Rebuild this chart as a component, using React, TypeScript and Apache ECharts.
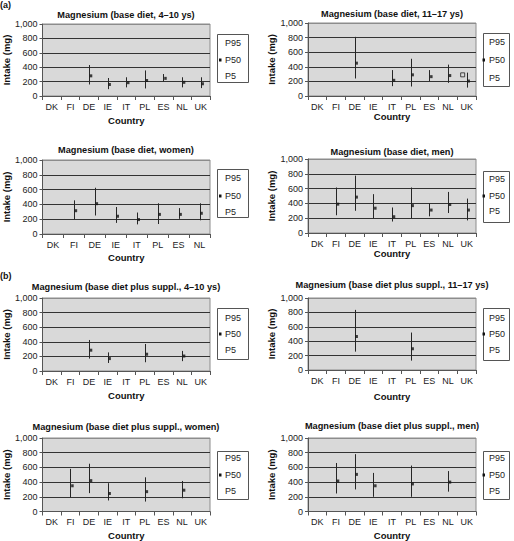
import React, { useEffect, useRef } from 'react';
import * as echarts from 'echarts';

const countries9 = ['DK', 'FI', 'DE', 'IE', 'IT', 'PL', 'ES', 'NL', 'UK'];
const countries8 = ['DK', 'FI', 'DE', 'IE', 'IT', 'PL', 'ES', 'NL'];
const yTicks = [0, 200, 400, 600, 800, 1000];

// (a) base diet
const base4to10P5 = [null, null, 160, 95, 120, 105, 200, 120, 110];
const base4to10P50 = [null, null, 280, 160, 185, 215, 245, 190, 170];
const base4to10P95 = [null, null, 430, 250, 260, 355, 305, 260, 260];

const base11to17P5 = [null, null, 240, null, 135, 130, 205, 180, 115];
const base11to17P50 = [null, null, 450, null, 215, 290, 265, 280, 205];
const base11to17P95 = [null, null, 810, null, 355, 510, 355, 430, 320];
const base11to17Hollow = [null, null, null, null, null, null, null, null, 290];

const baseWomenP5 = [null, 195, 250, 150, 130, 135, 205, 185];
const baseWomenP50 = [null, 315, 410, 240, 195, 265, 265, 280];
const baseWomenP95 = [null, 455, 625, 365, 290, 415, 350, 415];

const baseMenP5 = [null, 240, 300, 200, 155, 200, 225, 270, 170];
const baseMenP50 = [null, 390, 485, 335, 220, 370, 310, 385, 310];
const baseMenP95 = [null, 615, 775, 525, 345, 615, 405, 555, 465];

// (b) base diet plus supplements
const suppl4to10P5 = [null, null, 170, 110, null, 120, null, 135, null];
const suppl4to10P50 = [null, null, 285, 170, null, 230, null, 205, null];
const suppl4to10P95 = [null, null, 425, 255, null, 370, null, 275, null];

const suppl11to17P5 = [null, null, 255, null, null, 130, null, null, null];
const suppl11to17P50 = [null, null, 465, null, null, 295, null, null, null];
const suppl11to17P95 = [null, null, 835, null, null, 520, null, null, null];

const supplWomenP5 = [null, 190, 250, 150, null, 135, null, 180, null];
const supplWomenP50 = [null, 350, 420, 245, null, 270, null, 290, null];
const supplWomenP95 = [null, 580, 650, 385, null, 465, null, 415, null];

const supplMenP5 = [null, 245, 300, 200, null, 200, null, 270, null];
const supplMenP50 = [null, 415, 505, 350, null, 375, null, 400, null];
const supplMenP95 = [null, 660, 780, 525, null, 625, null, 550, null];

const legendLabels = ['P95', 'P50', 'P5'];

const FONT = '"Liberation Sans", Arial, Helvetica, sans-serif';

type Num = number | null;
interface Panel {
  title: string;
  cats: string[];
  p5: Num[];
  p50: Num[];
  p95: Num[];
  hollow?: Num[];
  grid: { left: number; top: number; width: number; height: number };
  titleY: number;
  nameY: number;
  yNameX: number;
  legend: { x: number; y: number; w: number; h: number; ys: number[]; tx: number; mx: number };
}

const panels: Panel[] = [
  {
    title: 'Magnesium (base diet, 4–10 ys)', cats: countries9,
    p5: base4to10P5, p50: base4to10P50, p95: base4to10P95,
    grid: { left: 42, top: 24, width: 168, height: 72 }, titleY: 15, nameY: 121, yNameX: 5,
    legend: { x: 217, y: 34, w: 31, h: 48, ys: [43, 60, 76], tx: 225, mx: 220 },
  },
  {
    title: 'Magnesium (base diet, 11–17 ys)', cats: countries9,
    p5: base11to17P5, p50: base11to17P50, p95: base11to17P95, hollow: base11to17Hollow,
    grid: { left: 308, top: 23, width: 168, height: 73 }, titleY: 14, nameY: 117, yNameX: 272,
    legend: { x: 483, y: 33, w: 26, h: 53, ys: [42, 60, 78], tx: 489, mx: 483.5 },
  },
  {
    title: 'Magnesium (base diet, women)', cats: countries8,
    p5: baseWomenP5, p50: baseWomenP50, p95: baseWomenP95,
    grid: { left: 42, top: 160, width: 168, height: 74 }, titleY: 150, nameY: 258, yNameX: 5,
    legend: { x: 217, y: 169, w: 31, h: 48, ys: [178, 196, 212], tx: 225, mx: 220 },
  },
  {
    title: 'Magnesium (base diet, men)', cats: countries9,
    p5: baseMenP5, p50: baseMenP50, p95: baseMenP95,
    grid: { left: 308, top: 159, width: 168, height: 74 }, titleY: 152, nameY: 253, yNameX: 272,
    legend: { x: 483, y: 171, w: 26, h: 51, ys: [179, 196, 211], tx: 489, mx: 483.5 },
  },
  {
    title: 'Magnesium (base diet plus suppl., 4–10 ys)', cats: countries9,
    p5: suppl4to10P5, p50: suppl4to10P50, p95: suppl4to10P95,
    grid: { left: 42, top: 298, width: 168, height: 73 }, titleY: 287, nameY: 396, yNameX: 5,
    legend: { x: 217, y: 308, w: 31, h: 51, ys: [318, 334, 350], tx: 225, mx: 220 },
  },
  {
    title: 'Magnesium (base diet plus suppl., 11–17 ys)', cats: countries9,
    p5: suppl11to17P5, p50: suppl11to17P50, p95: suppl11to17P95,
    grid: { left: 308, top: 298, width: 168, height: 72 }, titleY: 285, nameY: 397, yNameX: 272,
    legend: { x: 483, y: 308, w: 26, h: 52, ys: [318, 334, 350], tx: 489, mx: 483.5 },
  },
  {
    title: 'Magnesium (base diet plus suppl., women)', cats: countries9,
    p5: supplWomenP5, p50: supplWomenP50, p95: supplWomenP95,
    grid: { left: 42, top: 438, width: 168, height: 74 }, titleY: 427, nameY: 536, yNameX: 5,
    legend: { x: 217, y: 451, w: 31, h: 48, ys: [458, 475, 491], tx: 225, mx: 220 },
  },
  {
    title: 'Magnesium (base diet plus suppl., men)', cats: countries9,
    p5: supplMenP5, p50: supplMenP50, p95: supplMenP95,
    grid: { left: 308, top: 438, width: 168, height: 74 }, titleY: 426, nameY: 536, yNameX: 272,
    legend: { x: 483, y: 451, w: 26, h: 48, ys: [458, 475, 491], tx: 489, mx: 483.5 },
  },
];

function buildOption() {
  const grids: any[] = [];
  const xAxes: any[] = [];
  const yAxes: any[] = [];
  const series: any[] = [];
  const titles: any[] = [];
  const graphics: any[] = [];

  panels.forEach((p, i) => {
    const g = p.grid;
    grids.push({
      left: g.left, top: g.top, width: g.width, height: g.height,
      show: true, backgroundColor: '#d9d9d9', borderColor: '#8c8c8c', borderWidth: 1,
      containLabel: false,
    });
    xAxes.push({
      type: 'category', gridIndex: i, data: p.cats, boundaryGap: true,
      name: 'Country', nameLocation: 'middle',
      nameGap: p.nameY - (g.top + g.height) - 5.5,
      nameTextStyle: { fontFamily: FONT, fontSize: 9.5, fontWeight: 'bold', color: '#111' },
      axisLine: { show: true, lineStyle: { color: '#555', width: 1 } },
      axisTick: { show: true, length: 4, lineStyle: { color: '#555' } },
      axisLabel: { fontFamily: FONT, fontSize: 9, color: '#222', margin: 6, interval: 0 },
      splitLine: { show: false },
    });
    yAxes.push({
      type: 'value', gridIndex: i, min: 0, max: 1000, interval: 200,
      name: 'Intake (mg)', nameLocation: 'middle', nameRotate: 90,
      nameGap: g.left - p.yNameX - 5.5,
      nameTextStyle: { fontFamily: FONT, fontSize: 9.5, fontWeight: 'bold', color: '#111' },
      axisLine: { show: true, lineStyle: { color: '#555', width: 1 } },
      axisTick: { show: true, length: 3, lineStyle: { color: '#555' } },
      axisLabel: {
        fontFamily: FONT, fontSize: 9, color: '#222', margin: 5,
        formatter: (v: number) => v.toLocaleString('en-US'),
      },
      splitLine: {
        show: true,
        lineStyle: { color: yTicks.map((t) => (t === 0 || t === 1000 ? '#8c8c8c' : '#333333')), width: 1 },
      },
    });
    titles.push({
      text: p.title, left: g.left + g.width / 2, top: p.titleY - 5.5, textAlign: 'center',
      padding: 0,
      textStyle: { fontFamily: FONT, fontSize: 9.2, fontWeight: 'bold', color: '#111', lineHeight: 11 },
    });

    const bars = p.cats
      .map((_, k) => (p.p5[k] != null && p.p95[k] != null ? [k, p.p5[k], p.p95[k]] : null))
      .filter(Boolean);
    series.push({
      type: 'custom', name: 'P5–P95', xAxisIndex: i, yAxisIndex: i, data: bars,
      encode: { x: 0, y: [1, 2] },
      renderItem: (params: any, api: any) => {
        const lo = api.coord([api.value(0), api.value(1)]);
        const hi = api.coord([api.value(0), api.value(2)]);
        const x = Math.round(lo[0]) + 0.5;
        return {
          type: 'line',
          shape: { x1: x, y1: lo[1], x2: x, y2: hi[1] },
          style: { stroke: '#262626', lineWidth: 1 },
        };
      },
      z: 3,
    });
    const meds = p.cats
      .map((_, k) => (p.p50[k] != null ? [k, p.p50[k]] : null))
      .filter(Boolean);
    series.push({
      type: 'scatter', name: 'P50', xAxisIndex: i, yAxisIndex: i, data: meds,
      symbol: 'rect', symbolSize: [2.5, 3], symbolOffset: [2, 0],
      itemStyle: { color: '#111' }, z: 4,
    });
    if (p.hollow) {
      const hol = p.cats
        .map((_, k) => (p.hollow![k] != null ? [k, p.hollow![k]] : null))
        .filter(Boolean);
      series.push({
        type: 'scatter', name: 'other', xAxisIndex: i, yAxisIndex: i, data: hol,
        symbol: 'rect', symbolSize: 4, symbolOffset: [-4, 0],
        itemStyle: { color: '#d9d9d9', borderColor: '#222', borderWidth: 1 }, z: 4,
      });
    }

    const L = p.legend;
    graphics.push({
      type: 'rect', shape: { x: L.x + 0.5, y: L.y + 0.5, width: L.w, height: L.h },
      style: { fill: '#fff', stroke: '#555', lineWidth: 1 },
    });
    legendLabels.forEach((lab, j) => {
      graphics.push({
        type: 'text', x: L.tx, y: L.ys[j],
        style: {
          text: lab, fontFamily: FONT, fontSize: 9, fill: '#222',
          align: 'left', verticalAlign: 'middle',
        },
      });
    });
    graphics.push({
      type: 'rect', shape: { x: L.mx - 1, y: L.ys[1] - 1.5, width: 2.5, height: 3 },
      style: { fill: '#111' }, z: 10,
    });
  });

  graphics.push({
    type: 'text', x: 0, y: 5,
    style: { text: '(a)', fontFamily: FONT, fontSize: 9, fontWeight: 'bold', fill: '#111', verticalAlign: 'middle' },
  });
  graphics.push({
    type: 'text', x: 0, y: 276,
    style: { text: '(b)', fontFamily: FONT, fontSize: 9, fontWeight: 'bold', fill: '#111', verticalAlign: 'middle' },
  });

  return {
    animation: false,
    backgroundColor: '#ffffff',
    title: titles,
    grid: grids,
    xAxis: xAxes,
    yAxis: yAxes,
    series,
    graphic: graphics,
  };
}

export default function App() {
  const ref = useRef<HTMLDivElement>(null);
  useEffect(() => {
    if (!ref.current) return;
    const chart = echarts.init(ref.current, undefined, { renderer: 'svg' });
    chart.setOption(buildOption());
    return () => chart.dispose();
  }, []);
  return (
    <div
      ref={ref}
      style={{ position: 'fixed', left: 0, top: 0, width: 514, height: 541, background: '#fff' }}
    />
  );
}
